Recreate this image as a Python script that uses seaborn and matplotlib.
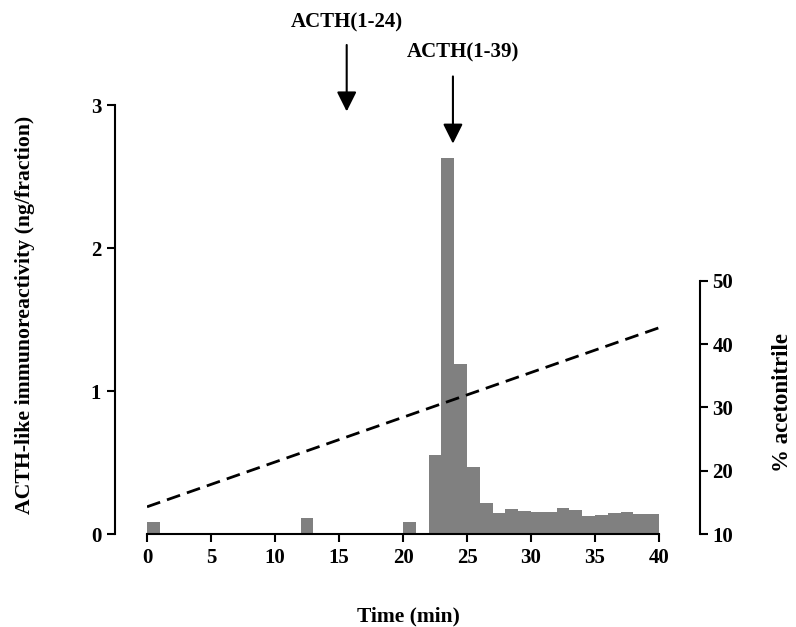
import numpy as np
import pandas as pd
import matplotlib
matplotlib.use("Agg")
import matplotlib.pyplot as plt
import seaborn as sns

# ---- data ----
fraction_start = np.arange(0, 40)          # 1-min fractions, start time (min)
activity = [0.085, 0, 0, 0, 0, 0, 0, 0, 0, 0,
            0, 0, 0.115, 0, 0, 0, 0, 0, 0, 0,
            0.085, 0, 0.55, 2.63, 1.19, 0.47, 0.22, 0.145, 0.175, 0.16,
            0.152, 0.152, 0.185, 0.165, 0.125, 0.13, 0.145, 0.155, 0.14, 0.14]
gradient_time = [0, 40]
gradient_pct = [14.3, 42.6]
markers = ["ACTH(1-24)", "ACTH(1-39)"]
marker_time = [15.6, 23.9]

sns.set_style("ticks")
plt.rcParams['font.family'] = ['Liberation Serif', 'DejaVu Serif']
plt.rcParams['font.weight'] = 'bold'
plt.rcParams['axes.labelweight'] = 'bold'
plt.rcParams['text.color'] = 'black'
plt.rcParams['axes.labelcolor'] = 'black'
plt.rcParams['xtick.color'] = 'black'
plt.rcParams['ytick.color'] = 'black'

fig = plt.figure(figsize=(7.96, 6.27), dpi=100)
ax = fig.add_axes([0.1847, 0.1483, 0.6432, 0.6842])

df = pd.DataFrame({"t": fraction_start + 0.5, "act": activity})
sns.barplot(data=df, x="t", y="act", native_scale=True, width=1.0,
            color='#808080', saturation=1, errorbar=None, linewidth=0, ax=ax)

ax.set_xlim(0, 40)
ax.set_ylim(0, 3)
ax.set_xticks([0, 5, 10, 15, 20, 25, 30, 35, 40])
ax.set_xticklabels(["0", "5", "10", "15", "20", "25", "30", "35", "40"])
ax.set_yticks([0, 1, 2, 3])
ax.set_ylabel("")
ax.set_xlabel("")
for s in ['top', 'right']:
    ax.spines[s].set_visible(False)
ax.spines['left'].set_position(('outward', 23))
ax.spines['left'].set_bounds(0, 3)
ax.spines['bottom'].set_bounds(0, 40)
for s in ['left', 'bottom']:
    ax.spines[s].set_linewidth(1.5)
    ax.spines[s].set_color('black')
ax.tick_params(axis='both', width=1.5, length=6, labelsize=15, colors='black',
               labelcolor='black', pad=4)
for lab in ax.get_xticklabels() + ax.get_yticklabels():
    lab.set_fontweight('bold')
    lab.set_color('black')

ax2 = ax.twinx()
gdf = pd.DataFrame({"t": gradient_time, "pct": gradient_pct})
sns.lineplot(data=gdf, x="t", y="pct", ax=ax2, color='black',
             linewidth=2.0, linestyle=(0, (5, 2.6)))
ax2.set_ylim(10, 77.8)
ax2.set_yticks([10, 20, 30, 40, 50])
ax2.set_ylabel("")
for s in ['top', 'left', 'bottom']:
    ax2.spines[s].set_visible(False)
ax2.spines['right'].set_position(('outward', 29.5))
ax2.spines['right'].set_bounds(10, 50)
ax2.spines['right'].set_linewidth(1.5)
ax2.spines['right'].set_color('black')
ax2.tick_params(axis='y', width=1.5, length=6, labelsize=15, colors='black',
                labelcolor='black', pad=3)
for lab in ax2.get_yticklabels():
    lab.set_fontweight('bold')
    lab.set_color('black')

# arrows and labels
arrow_tops = [3.42, 3.2]
arrow_tips = [2.955, 2.73]
label_pos = [(15.6, 3.576), (24.66, 3.366)]
for name, t, top, tip, (lx, ly) in zip(markers, marker_time, arrow_tops, arrow_tips, label_pos):
    ax.annotate('', xy=(t, tip), xytext=(t, top), annotation_clip=False,
                arrowprops=dict(arrowstyle='-|>,head_length=0.6,head_width=0.3',
                                mutation_scale=20, lw=1.5, color='black',
                                shrinkA=0, shrinkB=0))
    ax.text(lx, ly, name, ha='center', va='center', fontsize=15,
            fontweight='bold', color='black', clip_on=False)

fig.text(408 / 796, 1 - 616 / 627, "Time (min)", ha='center', va='center',
         fontsize=15.5, fontweight='bold', color='black')
fig.text(25 / 796, 1 - 315 / 627, "ACTH-like immunoreactivity (ng/fraction)",
         ha='center', va='center', rotation=90, fontsize=15.7, fontweight='bold',
         color='black')
fig.text(783 / 796, 1 - 402 / 627, "% acetonitrile", ha='center', va='center',
         rotation=90, fontsize=16.5, fontweight='bold', color='black')

fig.savefig("out.png", dpi=100)
